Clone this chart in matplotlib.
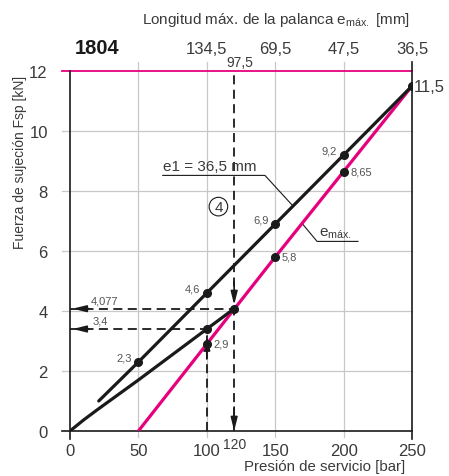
""" Fuerza de sujeción vs presión de servicio - 1804 """

import matplotlib
matplotlib.use('Agg')
import matplotlib.pyplot as plt

plt.rcParams['font.family'] = ['Liberation Sans', 'DejaVu Sans']
plt.rcParams['mathtext.fontset'] = 'custom'
plt.rcParams['mathtext.rm'] = 'Liberation Sans'
plt.rcParams['mathtext.it'] = 'Liberation Sans'

TXT = '#3a3a3a'
MAG = '#e6007e'
NEGRO = '#1a1a1a'

# Datos
presion_ticks = [0, 50, 100, 150, 200, 250]
fuerza_ticks = [0, 2, 4, 6, 8, 10, 12]
palanca_pos = [100, 150, 200, 250]
palanca_lbl = ['134,5', '69,5', '47,5', '36,5']

# e1 = 36,5 mm (recta negra superior)
e1_x = [21, 50, 100, 150, 200, 250]
e1_y = [1.0, 2.3, 4.6, 6.9, 9.2, 11.5]
e1_lbl = ['', '2,3', '4,6', '6,9', '9,2', '']

# e max (recta magenta)
emax_x = [50, 100, 150, 200, 250]
emax_y = [0.0, 2.9, 5.8, 8.65, 11.5]
emax_lbl = ['', '2,9', '5,8', '8,65', '']

# curva negra inferior (palanca 97,5 mm)
curva_x = [0, 10, 20, 50, 75, 100, 120]
curva_y = [0.0, 0.37, 0.71, 1.70, 2.55, 3.4, 4.077]

# lecturas
p_lectura = 120
f_lectura = 4.077
p_100 = 100
f_100 = 3.4

fig = plt.figure(figsize=(4.49, 4.77), dpi=100)
ax = fig.add_axes([70/449, 45/477, 342/449, 369/477])
ax.set_xlim(0, 250)
ax.set_ylim(0, 12.3)

# rejilla
for x in [50, 100, 150, 200]:
    ax.plot([x, x], [-0.2, 12.3], color='#c8c8c8', lw=0.9, clip_on=False, zorder=1)
for y in [2, 4, 6, 8, 10]:
    ax.plot([-6, 250], [y, y], color='#c8c8c8', lw=0.9, clip_on=False, zorder=1)
ax.plot([-6, 250], [12, 12], color=MAG, lw=1.3, clip_on=False, zorder=2)
ax.plot([-6, 250], [0, 0], color=NEGRO, lw=1.2, clip_on=False, zorder=2)
ax.plot([0, 0], [-0.25, 12], color=NEGRO, lw=1.2, clip_on=False, zorder=2)
ax.plot([250, 250], [-0.25, 12.3], color=NEGRO, lw=1.2, clip_on=False, zorder=2)

for s in ax.spines.values():
    s.set_visible(False)
ax.set_xticks(presion_ticks)
ax.set_yticks(fuerza_ticks)
ax.tick_params(length=0, labelsize=12, labelcolor=TXT)
ax.tick_params(axis='x', pad=9)
ax.tick_params(axis='y', pad=16)

# eje superior
sec = ax.secondary_xaxis('top')
sec.set_xticks(palanca_pos, palanca_lbl)
sec.tick_params(length=0, labelsize=12, labelcolor=TXT, pad=4)
sec.spines['top'].set_visible(False)

# líneas de lectura discontinuas
dash = dict(color=NEGRO, lw=1.3, linestyle=(0, (5, 3)), zorder=3)
ax.plot([p_lectura, p_lectura], [0, 12], **dash)
ax.plot([0, p_lectura], [f_lectura, f_lectura], **dash)
ax.plot([0, p_100], [f_100, f_100], **dash)
ax.plot([p_100, p_100], [0, f_100], **dash)

flecha = dict(arrowstyle='-|>,head_length=0.8,head_width=0.2', color=NEGRO,
              lw=1.2, shrinkA=0, shrinkB=0)
ax.annotate('', xy=(p_lectura, 4.2), xytext=(p_lectura, 5.0), arrowprops=flecha, zorder=4)
ax.annotate('', xy=(p_lectura, 0.0), xytext=(p_lectura, 0.8), arrowprops=flecha, zorder=4)
ax.annotate('', xy=(2, f_lectura), xytext=(14, f_lectura), arrowprops=flecha, zorder=4)
ax.annotate('', xy=(2, f_100), xytext=(14, f_100), arrowprops=flecha, zorder=4)
ax.annotate('', xy=(p_100, 3.15), xytext=(p_100, 2.4), arrowprops=flecha, zorder=4)

# curvas
ax.plot(emax_x, emax_y, color=MAG, lw=2.3, solid_capstyle='butt', zorder=5)
ax.plot(curva_x, curva_y, color=NEGRO, lw=2.3, solid_capstyle='round', zorder=6)
ax.plot(e1_x, e1_y, color=NEGRO, lw=2.3, solid_capstyle='round', zorder=6)

ax.plot(e1_x[1:], e1_y[1:], 'o', color=NEGRO, ms=5.5, zorder=7)
ax.plot(emax_x[1:-1], emax_y[1:-1], 'o', color=NEGRO, ms=5.5, zorder=7)
ax.plot([p_100, p_lectura], [f_100, f_lectura], 'o', color=NEGRO, ms=5.5, zorder=7)

# etiquetas de valores
for x, y, t in zip(e1_x, e1_y, e1_lbl):
    if t:
        ax.text(x - 5, y + 0.15, t, fontsize=8, color='#555555', ha='right', va='center')
for x, y, t in zip(emax_x, emax_y, emax_lbl):
    if t:
        ax.text(x + 5, y, t, fontsize=8, color='#555555', ha='left', va='center')
ax.text(251.5, 11.5, '11,5', fontsize=12, color=TXT, ha='left', va='center')
ax.text(25.5, f_lectura + 0.27, '4,077', fontsize=8, color='#555555', ha='center', va='center')
ax.text(22, f_100 + 0.27, '3,4', fontsize=8, color='#555555', ha='center', va='center')
ax.text(124, 12.05, '97,5', fontsize=10, color=TXT, ha='center', va='bottom', clip_on=False)
ax.text(p_lectura, -0.2, '120', fontsize=10, color=TXT, ha='center', va='top')

# rótulos con línea guía
ax.text(68, 8.6, 'e1 = 36,5 mm', fontsize=11, color=TXT, ha='left', va='bottom')
ax.plot([67.8, 142.5, 163], [8.52, 8.52, 7.5], color=NEGRO, lw=0.8, zorder=4)
ax.text(182, 6.38, r'e$_{\mathrm{máx.}}$', fontsize=11, color=TXT, ha='left', va='bottom')
ax.plot([170, 180.6, 210.5], [6.9, 6.32, 6.32], color=NEGRO, lw=0.8, zorder=4)
ax.text(108.5, 7.48, '4', fontsize=11, color=TXT, ha='center', va='center',
        bbox=dict(boxstyle='circle,pad=0.15', fc='white', ec=NEGRO, lw=0.8))

# títulos
fig.text(276/449, 1 - 20/477, r'Longitud máx. de la palanca e$_{\mathrm{máx.}}$ [mm]',
         fontsize=11, color=TXT, ha='center', va='center')
fig.text(97/449, 1 - 48/477, '1804', fontsize=14.5, fontweight='bold', color=NEGRO,
         ha='center', va='center')
fig.text(20/449, 1 - 162/477, 'Fuerza de sujeción Fsp [kN]', fontsize=10, color=TXT,
         rotation=90, ha='center', va='center')
fig.text(405/449, 1 - 467/477, 'Presión de servicio [bar]', fontsize=10.8, color=TXT,
         ha='right', va='center')

fig.savefig('out.png', dpi=100)
